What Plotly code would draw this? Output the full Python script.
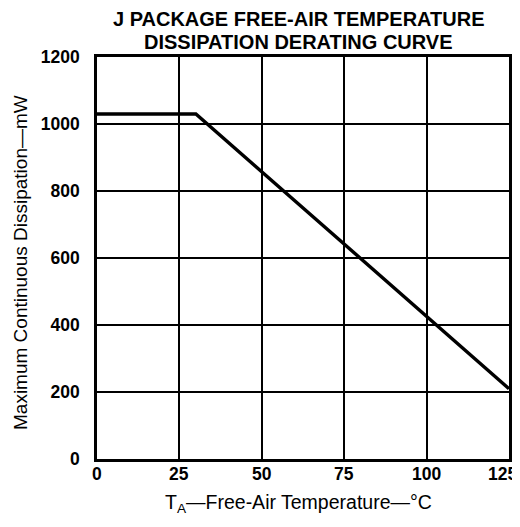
import plotly.graph_objects as go

temp_c = [0, 30, 125]
dissipation_mw = [1030, 1030, 210]
x_ticks = [0, 25, 50, 75, 100, 125]
y_ticks = [0, 200, 400, 600, 800, 1000, 1200]

title_lines = ["J PACKAGE FREE-AIR TEMPERATURE", "DISSIPATION DERATING CURVE"]
x_title = "T<sub>A</sub>—Free-Air Temperature—°C"
y_title = "Maximum Continuous Dissipation—mW"

FONT = "Liberation Sans, Arial, Helvetica, sans-serif"
TICK_FONT = dict(size=17.5, family=FONT, weight="bold", color="black")

fig = go.Figure()
fig.add_trace(go.Scatter(x=temp_c, y=dissipation_mw, mode="lines",
                         line=dict(color="black", width=3.4), showlegend=False))

fig.update_layout(
    width=520, height=527,
    margin=dict(l=89, r=19, t=49, b=76),
    paper_bgcolor="white", plot_bgcolor="white",
    font=dict(family=FONT, color="black"),
)
fig.update_xaxes(range=[0, 125], tickvals=x_ticks, showticklabels=False,
                 showgrid=True, gridcolor="black", gridwidth=1.5, zeroline=False,
                 showline=True, linecolor="black", linewidth=2.5, mirror=True,
                 ticks="", automargin=False)
fig.update_yaxes(range=[0, 1200], tickvals=y_ticks, ticktext=[str(v) for v in y_ticks],
                 showgrid=True, gridcolor="black", gridwidth=1.5, zeroline=False,
                 showline=True, linecolor="black", linewidth=2.5, mirror=True,
                 ticks="", ticklabelstandoff=11, automargin=False,
                 tickfont=TICK_FONT)

# x tick labels placed on the x data scale
for i, v in enumerate(x_ticks):
    fig.add_annotation(text=str(v), x=v, xref="x", y=-(474 - 459) / 402, yref="paper",
                       showarrow=False, xanchor="center", yanchor="middle",
                       xshift=(-7 if i == len(x_ticks) - 1 else 0), font=TICK_FONT)

ann = dict(xref="paper", yref="paper", showarrow=False, xanchor="center", yanchor="middle",
           borderpad=0)
fig.add_annotation(text="<b>" + title_lines[0] + "</b>", x=(299 - 97) / 412, y=1 + (57 - 19) / 402,
                   font=dict(size=20, family=FONT), **ann)
fig.add_annotation(text="<b>" + title_lines[1] + "</b>", x=(298 - 97) / 412, y=1 + (57 - 42) / 402,
                   font=dict(size=20, family=FONT), **ann)
fig.add_annotation(text=x_title, x=(298 - 97) / 412, y=-(503 - 459) / 402,
                   font=dict(size=19.5, family=FONT), **ann)
fig.add_annotation(text=y_title, x=-(97 - 20) / 412, y=(459 - 263) / 402, textangle=-90,
                   font=dict(size=19, family=FONT), **ann)

fig.write_html("out.html")
